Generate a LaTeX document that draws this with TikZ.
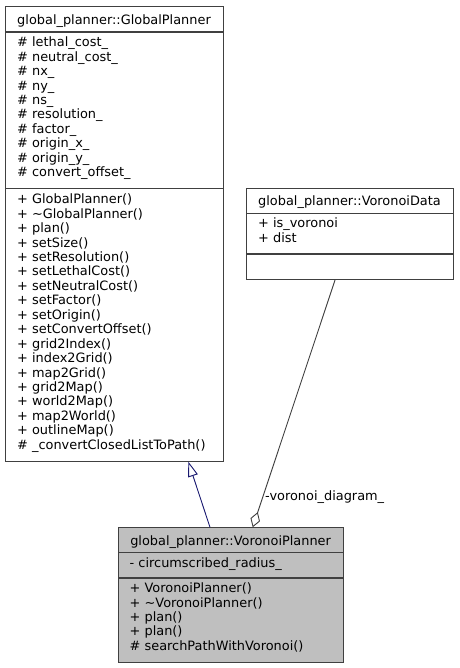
\documentclass[tikz,border=0pt]{standalone}
\usepackage{fontspec}
\setmainfont{DejaVu Sans}
\usetikzlibrary{arrows.meta,calc}

\definecolor{boxline}{HTML}{404040}
\definecolor{current}{HTML}{BFBFBF}
\definecolor{inheritcol}{HTML}{191970}
\definecolor{usagecol}{HTML}{404040}

\tikzset{
  classbox/.style={draw=boxline, line width=1.1pt, inner sep=0pt, anchor=north west},
  divider/.style={draw=boxline, line width=1.1pt},
  header/.style={anchor=base, inner sep=0pt},
  % multi-line lists are placed by the baseline of their last line
  members/.style={anchor=base west, inner sep=0pt, align=left},
  inherit/.style={draw=inheritcol, line width=0.9pt,
    -{Triangle[length=15pt,width=10pt,fill=white]}},
  aggregate/.style={draw=usagecol, line width=0.9pt,
    {Diamond[length=16pt,width=10pt,fill=white]}-},
  edgelabel/.style={anchor=base west, inner sep=0pt}
}

\begin{document}
\begin{tikzpicture}[x=1pt, y=-1pt, font=\fontsize{12.9}{14.45}\selectfont]
\useasboundingbox (0,0) rectangle (459,668);

% global_planner::GlobalPlanner
\node[classbox, minimum width=218pt, minimum height=454.5pt] (gp) at (5,6) {};
\draw[divider] ($(gp.north west)+(0,26)$) -- ($(gp.north east)+(0,26)$);
\draw[divider] ($(gp.north west)+(0,182.7)$) -- ($(gp.north east)+(0,182.7)$);
\node[header] (gphead) at (114,24.5) {global\_planner::GlobalPlanner};
\node[members] (gpattr) at (17,176.8) {%
\# lethal\_cost\_\\
\# neutral\_cost\_\\
\# nx\_\\
\# ny\_\\
\# ns\_\\
\# resolution\_\\
\# factor\_\\
\# origin\_x\_\\
\# origin\_y\_\\
\# convert\_offset\_};
\node[members] (gpops) at (17,449.3) {%
+ GlobalPlanner()\\
+ \textasciitilde GlobalPlanner()\\
+ plan()\\
+ setSize()\\
+ setResolution()\\
+ setLethalCost()\\
+ setNeutralCost()\\
+ setFactor()\\
+ setOrigin()\\
+ setConvertOffset()\\
+ grid2Index()\\
+ index2Grid()\\
+ map2Grid()\\
+ grid2Map()\\
+ world2Map()\\
+ map2World()\\
+ outlineMap()\\
\# \_convertClosedListToPath()};

% global_planner::VoronoiData
\node[classbox, minimum width=207pt, minimum height=91pt] (vd) at (246,188) {};
\draw[divider] ($(vd.north west)+(0,25.5)$) -- ($(vd.north east)+(0,25.5)$);
\draw[divider] ($(vd.north west)+(0,66)$) -- ($(vd.north east)+(0,66)$);
\node[header] (vdhead) at (349.5,206) {global\_planner::VoronoiData};
\node[members] (vdattr) at (258,242) {%
+ is\_voronoi\\
+ dist};

% global_planner::VoronoiPlanner
\node[classbox, fill=current, minimum width=224.7pt, minimum height=134.7pt] (vp) at (118.3,527.3) {};
\draw[divider] ($(vp.north west)+(0,25.2)$) -- ($(vp.north east)+(0,25.2)$);
\draw[divider] ($(vp.north west)+(0,50.7)$) -- ($(vp.north east)+(0,50.7)$);
\node[header] (vphead) at (230.6,545.3) {global\_planner::VoronoiPlanner};
\node[members] (vpattr) at (129.5,567) {- circumscribed\_radius\_};
\node[members] (vpops) at (129.5,650.4) {%
+ VoronoiPlanner()\\
+ \textasciitilde VoronoiPlanner()\\
+ plan()\\
+ plan()\\
\# searchPathWithVoronoi()};

% relations
\draw[inherit] ($(vp.north west)+(91.7,0)$) -- ($(gp.south west)+(183.3,0)$);
\draw[aggregate] ($(vp.north west)+(134.4,0)$) -- ($(vd.south west)+(89,0)$);
\node[edgelabel] (aggrlabel) at (265,500.5) {-voronoi\_diagram\_};
\end{tikzpicture}
\end{document}
